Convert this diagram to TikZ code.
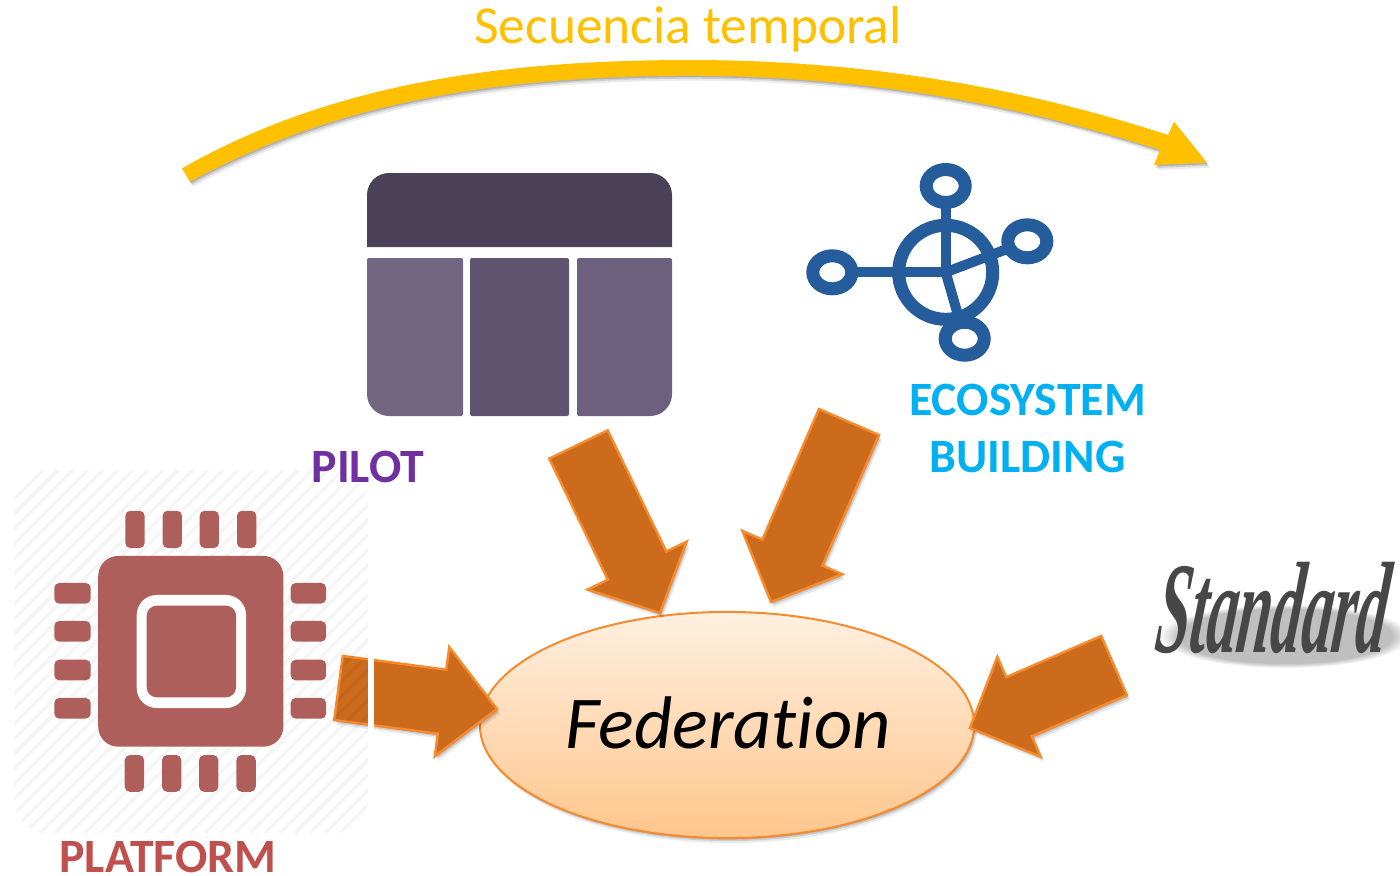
\documentclass[tikz,border=0pt]{standalone}
\usepackage{fontspec}
\setmainfont[Ligatures=NoCommon]{Carlito}
\newfontfamily\standardfont{Liberation Serif}
\usepackage{tikz}
\usetikzlibrary{shapes}
\usetikzlibrary{calc}
\usetikzlibrary{shadows}
\usetikzlibrary{fadings}

\definecolor{seqyellow}{HTML}{FFC000}
\definecolor{arrowfill}{HTML}{CB6B1B}
\definecolor{arrowline}{HTML}{F58A2E}
\definecolor{chipred}{HTML}{AE5F5B}
\definecolor{ecoblue}{HTML}{255C9B}
\definecolor{pilotdark}{HTML}{4B4259}
\definecolor{pilotleft}{HTML}{726783}
\definecolor{pilotmid}{HTML}{5F5470}
\definecolor{pilotright}{HTML}{6C607E}

\tikzset{
  softshadow/.style={
    drop shadow={shadow xshift=.01cm,shadow yshift=-.015cm,fill=black,opacity=.14},
    drop shadow={shadow xshift=.02cm,shadow yshift=-.03cm,fill=black,opacity=.12},
    drop shadow={shadow xshift=.03cm,shadow yshift=-.05cm,fill=black,opacity=.08}},
  bigarrow/.style={draw=arrowline,fill=arrowfill,line width=.025cm,line join=miter,softshadow},
  chippin/.style={draw=none,fill=chipred,rounded corners=.05cm,inner sep=0pt},
  hubring/.style={draw=ecoblue,ellipse,line width=.13cm,fill=white,inner sep=0pt,minimum width=.39cm,minimum height=.33cm},
  spoke/.style={draw=ecoblue,line width=.1cm},
  steplabel/.style={font=\bfseries\fontsize{13.6}{16.2}\selectfont,inner sep=0pt}
}

% tail, tip, half width, half head width, head length
\newcommand{\blockarrow}[5]{%
  \coordinate (neck) at ($(#2)!#5!(#1)$);
  \draw[bigarrow] ($(#1)!#3!90:(#2)$) -- ($(neck)!#3!90:(#2)$) -- ($(neck)!#4!90:(#2)$)
    -- (#2) -- ($(neck)!#4!-90:(#2)$) -- ($(neck)!#3!-90:(#2)$) -- ($(#1)!#3!-90:(#2)$) -- cycle;
}

\begin{document}
\begin{tikzpicture}[x=0.01cm,y=-0.01cm]
  \useasboundingbox (0,0) rectangle (1400,875);

  % curved arrow on top
  \coordinate (seq-start) at (182,168.3);
  \coordinate (seq-end) at (1207,162.7);
  \fill[seqyellow,softshadow] (seq-start) .. controls (320,90) and (480,60) .. (690,60)
    .. controls (880,60) and (1040,93) .. (1168,135)
    -- (1174,121.7) -- (seq-end) -- (1154,165) -- (1160,150)
    .. controls (1035,110) and (880,75.7) .. (690,75.7)
    .. controls (480,75.7) and (325,108) .. (190,181.7) -- cycle;
  \node[text=seqyellow,font=\fontsize{15.2}{17}\selectfont,inner sep=0pt] (seq-label) at (688,29) {Secuencia temporal};

  % pilot icon
  \fill[pilotdark] (367,247) [rounded corners=.22cm] -- (367,173) -- (672,173) [sharp corners] -- (672,247) -- cycle;
  \fill[pilotleft] (367,258) [rounded corners=.02cm] -- (463,258) -- (463,416) [rounded corners=.22cm] -- (367,416) [rounded corners=.02cm] -- cycle;
  \fill[pilotmid,rounded corners=.02cm] (470,258) rectangle (569,416);
  \fill[pilotright] (577,258) [rounded corners=.02cm] -- (672,258) [rounded corners=.22cm] -- (672,416) [rounded corners=.02cm] -- (577,416) -- cycle;
  \node[steplabel,text={rgb,255:red,112;green,48;blue,160}] (pilot-label) at (368,467) {PILOT};

  % ecosystem icon
  \coordinate (eco-center) at (945.7,272.3);
  \foreach \name/\x/\y in {top/945.7/186,right/1027.3/241.3,left/832.3/272.3,bottom/964.7/338.7}{%
    \coordinate (eco-\name-pos) at (\x,\y);
    \draw[spoke] (eco-center) -- (eco-\name-pos);
  }
  \draw[draw=ecoblue,line width=.13cm] (eco-center) circle (.47cm);
  \foreach \name in {top,right,left,bottom}{%
    \node[hubring] (eco-\name) at (eco-\name-pos) {};
  }
  \node[steplabel,align=center,text={rgb,255:red,0;green,176;blue,240}] (eco-label) at (1027.5,428) {ECOSYSTEM\\BUILDING};

  % federation
  \node[ellipse,draw=arrowline,line width=.02cm,top color=orange!12!white,bottom color=orange!45!white,
    minimum width=4.94cm,minimum height=2.26cm,inner sep=0pt,softshadow] (federation) at (727,725) {};
  \node[font=\itshape\fontsize{21.2}{24}\selectfont,inner sep=0pt] (federation-label) at (728,723) {Federation};

  % standard
  \fill[black,opacity=.25,path fading=circle with fuzzy edge 15 percent] (1285,636) ellipse (1.25cm and .32cm);
  \node[font=\standardfont\itshape\bfseries\fontsize{37}{40}\selectfont,text=black!72,inner sep=0pt,
    xscale=.47,xslant=.25,transform shape] (standard-label) at (1274,608) {Standard};

  % arrows into the ellipse
  \coordinate (pilot-tail) at (578.5,444.5);
  \coordinate (pilot-tip) at (660,613);
  \coordinate (eco-tail) at (849,422);
  \coordinate (eco-tip) at (771,602);
  \coordinate (platform-tail) at (338.5,688);
  \coordinate (platform-tip) at (497,709);
  \coordinate (standard-tail) at (1114,665.5);
  \coordinate (standard-tip) at (970,728);
  \blockarrow{pilot-tail}{pilot-tip}{.324cm}{.55cm}{.526cm}
  \blockarrow{eco-tail}{eco-tip}{.327cm}{.544cm}{.538cm}
  \blockarrow{platform-tail}{platform-tip}{.323cm}{.55cm}{.554cm}
  \blockarrow{standard-tail}{standard-tip}{.322cm}{.544cm}{.534cm}

  % platform panel with hatching
  \fill[white] (368,645) rectangle (374,740);
  \begin{scope}
    \clip[rounded corners=.33cm] (14,470) rectangle (368,833);
    \foreach \x in {-350,-335,...,370}{%
      \draw[black,opacity=.04,line width=.035cm] (\x,833) -- ++(363,-363);
    }
  \end{scope}

  % chip icon
  \node[chippin,rounded corners=.2cm,minimum width=1.85cm,minimum height=1.907cm] (chip) at (190.8,651.3) {};
  \node[fill=white,rounded corners=.2cm,inner sep=0pt,minimum width=1.093cm,minimum height=1.13cm] (chip-frame) at (191.4,651.5) {};
  \node[chippin,rounded corners=.1cm,minimum width=.893cm,minimum height=.916cm] (chip-core) at (191.4,651.5) {};
  \foreach \x/\i in {135/1,172.3/2,209.3/3,246.7/4}{%
    \node[chippin,minimum width=.193cm,minimum height=.373cm] (pin-top-\i) at (\x,529.4) {};
    \node[chippin,minimum width=.193cm,minimum height=.367cm] (pin-bottom-\i) at (\x-.6,773.4) {};
  }
  \foreach \y/\i in {593.3/1,631.3/2,670/3,708.3/4}{%
    \node[chippin,minimum width=.364cm,minimum height=.207cm] (pin-left-\i) at (72.5,\y) {};
    \node[chippin,minimum width=.354cm,minimum height=.207cm] (pin-right-\i) at (308.4,\y) {};
  }
  \node[steplabel,text={rgb,255:red,192;green,80;blue,77}] (platform-label) at (168,856.5) {PLATFORM};
\end{tikzpicture}
\end{document}
